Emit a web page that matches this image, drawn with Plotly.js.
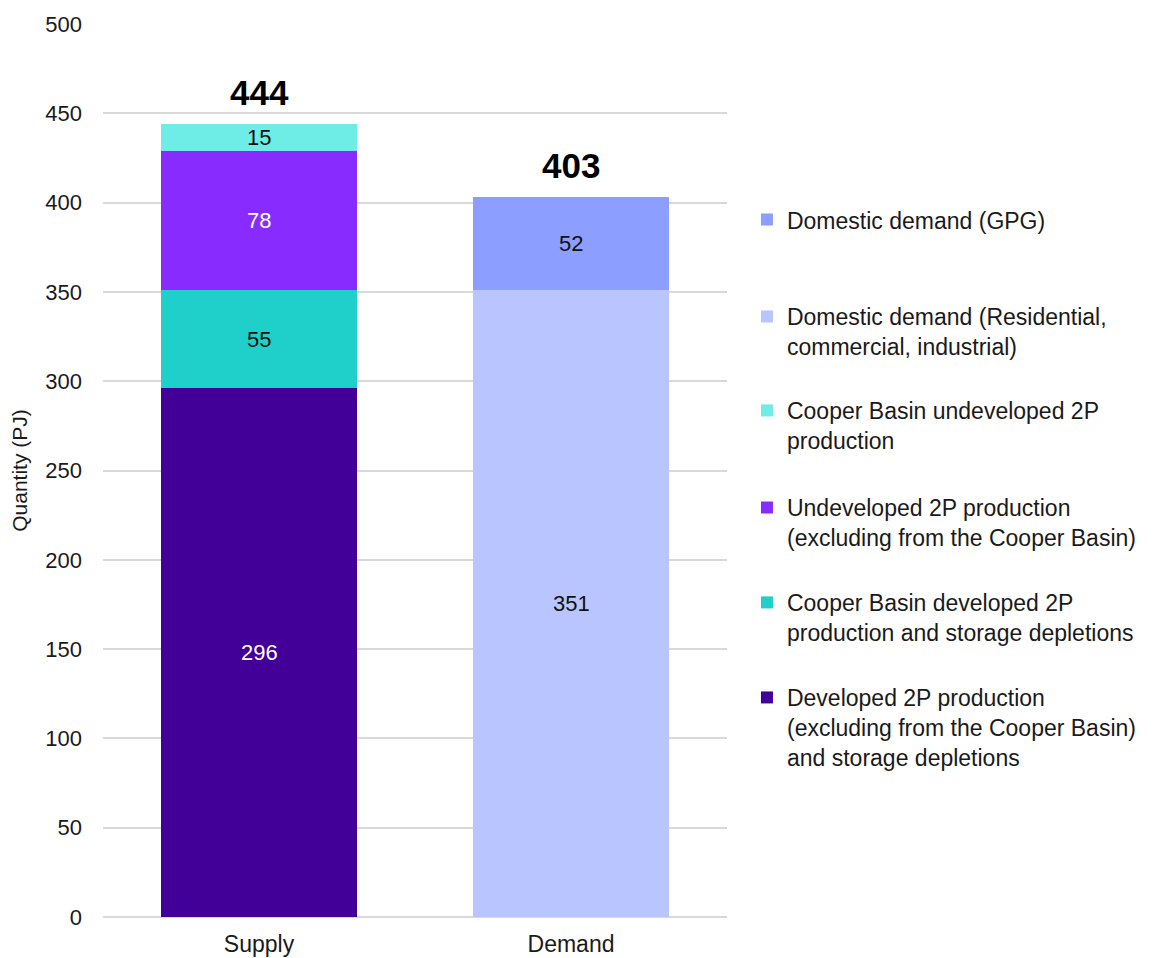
<!DOCTYPE html>
<html>
<head>
<meta charset="utf-8">
<script src="https://cdn.plot.ly/plotly-3.0.1.min.js"></script>
<style>html,body{margin:0;padding:0;background:#fff;}#chart{width:1153px;height:958px;}</style>
</head>
<body>
<div id="chart"></div>
<script>
const categories = ["Supply", "Demand"];
const developed2P = [296, null];
const cooperDeveloped = [55, null];
const undeveloped2P = [78, null];
const cooperUndeveloped = [15, null];
const demandResidential = [null, 351];
const demandGPG = [null, 52];
const totals = [444, 403];

const seriesNames = [
  "Developed 2P production<br>(excluding from the Cooper Basin)<br>and storage depletions",
  "Cooper Basin developed 2P<br>production and storage depletions",
  "Undeveloped 2P production<br>(excluding from the Cooper Basin)",
  "Cooper Basin undeveloped 2P<br>production",
  "Domestic demand (Residential,<br>commercial, industrial)",
  "Domestic demand (GPG)"
];
const seriesValues = [developed2P, cooperDeveloped, undeveloped2P, cooperUndeveloped, demandResidential, demandGPG];
const colors = ["#420099", "#1ED0C9", "#872BFF", "#6EECE6", "#B8C5FF", "#8C9EFF"];
const textColors = ["#ffffff", "#111111", "#ffffff", "#111111", "#111111", "#111111"];
const legendIds = ["legend6", "legend5", "legend4", "legend3", "legend2", "legend"];
const legendY = [0.2699, 0.3763, 0.4826, 0.5913, 0.6965, 0.805];

const traces = seriesValues.map((vals, i) => ({
  type: "bar",
  name: seriesNames[i],
  x: categories,
  y: vals,
  marker: {color: colors[i], line: {width: 0}},
  hoverinfo: "skip",
  showlegend: true,
  legend: legendIds[i]
}));

// segment labels centred in each stacked segment, from cumulative sums of the data
const segmentLabels = [];
const base = categories.map(() => 0);
seriesValues.forEach((vals, i) => {
  vals.forEach((v, j) => {
    if (v === null) return;
    segmentLabels.push({
      x: categories[j],
      y: base[j] + v / 2,
      xref: "x",
      yref: "y",
      text: String(v),
      showarrow: false,
      yanchor: "middle",
      font: {size: 22, color: textColors[i]}
    });
    base[j] += v;
  });
});

const totalLabels = categories.map((c, i) => ({
  x: c,
  y: totals[i],
  xref: "x",
  yref: "y",
  text: "<b>" + totals[i] + "</b>",
  showarrow: false,
  yanchor: "middle",
  yshift: 32,
  font: {size: 35, color: "#000000"}
}));

const layout = {
  width: 1153,
  height: 958,
  barmode: "stack",
  bargap: 0.37,
  showlegend: true,
  paper_bgcolor: "#ffffff",
  plot_bgcolor: "#ffffff",
  margin: {l: 103, r: 426, t: 24, b: 41, autoexpand: false},
  font: {family: "Arial, Liberation Sans, sans-serif", size: 22, color: "#1a1a1a"},
  xaxis: {
    type: "category",
    showgrid: false,
    showline: false,
    zeroline: false,
    tickfont: {size: 23, color: "#1a1a1a"},
    ticks: "",
    ticklabelstandoff: 11,
    automargin: false
  },
  yaxis: {
    range: [0, 500],
    dtick: 50,
    tick0: 0,
    showgrid: true,
    gridcolor: "#d9d9d9",
    gridwidth: 2,
    zeroline: true,
    zerolinecolor: "#d9d9d9",
    zerolinewidth: 2,
    showline: false,
    ticks: "",
    ticklabelstandoff: 20,
    tickfont: {size: 22, color: "#1a1a1a"},
    title: {text: "Quantity (PJ)", font: {size: 21, color: "#1a1a1a"}, standoff: 11},
    automargin: false
  },
  annotations: segmentLabels.concat(totalLabels)
};

legendIds.forEach((id, i) => {
  layout[id] = {
    x: 1.032,
    xanchor: "left",
    y: legendY[i],
    yanchor: "top",
    valign: "top",
    bgcolor: "rgba(0,0,0,0)",
    borderwidth: 0,
    font: {size: 23, color: "#1a1a1a"},
    itemwidth: 30
  };
});

Plotly.newPlot("chart", traces, layout, {displayModeBar: false, staticPlot: true});
</script>
</body>
</html>
